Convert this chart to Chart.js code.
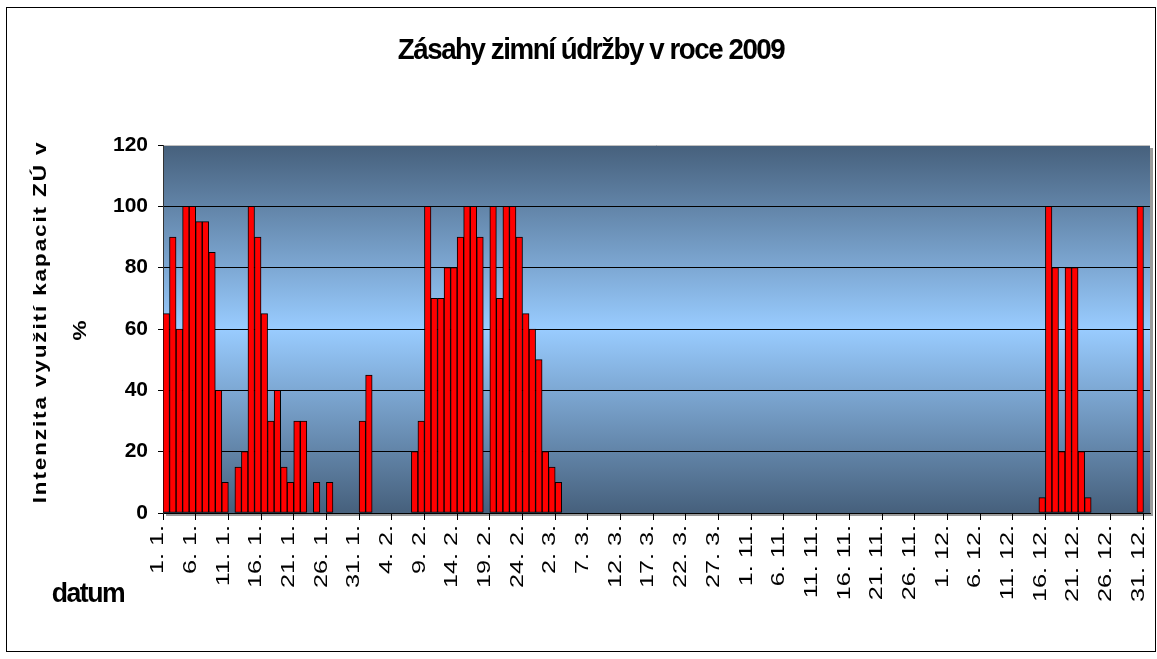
<!DOCTYPE html>
<html>
<head>
<meta charset="utf-8">
<script src="https://cdn.jsdelivr.net/npm/chart.js@4.4.1/dist/chart.umd.min.js"></script>
<style>
  html, body { margin: 0; padding: 0; background: #fff; }
  canvas { display: block; }
</style>
</head>
<body>
<canvas id="zasahy" width="1157" height="659"></canvas>
<script>
const chartTitle = "Zásahy zimní údržby v roce 2009";
const yTitleLines = ["Intenzita využití kapacit ZÚ v", "%"];
const xTitle = "datum";

// days shown on the category axis, month by month
const janDays = [1, 2, 3, 4, 5, 6, 7, 8, 9, 10, 11, 12, 13, 14, 15, 16, 17, 18, 19, 20, 21, 22, 23, 24, 25, 26, 27, 28, 29, 30, 31];
const febDays = [1, 1, 2, 3, 4, 5, 6, 7, 8, 9, 10, 11, 12, 13, 14, 15, 16, 17, 18, 19, 20, 21, 22, 23, 24, 25, 26, 27, 28];
const marDays = [2, 3, 4, 5, 6, 7, 8, 9, 10, 11, 12, 13, 14, 15, 16, 17, 18, 19, 20, 21, 22, 23, 24, 25, 26, 27, 28, 29, 30, 31];
const novDays = [1, 2, 3, 4, 5, 6, 7, 8, 9, 10, 11, 12, 13, 14, 15, 16, 17, 18, 19, 20, 21, 22, 23, 24, 25, 26, 27, 28, 29, 30];
const decDays = [1, 2, 3, 4, 5, 6, 7, 8, 9, 10, 11, 12, 13, 14, 15, 16, 17, 18, 19, 20, 21, 22, 23, 24, 25, 26, 27, 28, 29, 30, 31];

// intensity in %, one value per day
const janValues = [65, 90, 60, 100, 100, 95, 95, 85, 40, 10, 0, 15, 20, 100, 90, 65, 30, 40, 15, 10, 30, 30, 0, 10, 0, 10, 0, 0, 0, 0, 30];
const febValues = [45, 0, 0, 0, 0, 0, 0, 20, 30, 100, 70, 70, 80, 80, 90, 100, 100, 90, 0, 100, 70, 100, 100, 90, 65, 60, 50, 20, 15];
const marValues = [10, 0, 0, 0, 0, 0, 0, 0, 0, 0, 0, 0, 0, 0, 0, 0, 0, 0, 0, 0, 0, 0, 0, 0, 0, 0, 0, 0, 0, 0];
const novValues = [0, 0, 0, 0, 0, 0, 0, 0, 0, 0, 0, 0, 0, 0, 0, 0, 0, 0, 0, 0, 0, 0, 0, 0, 0, 0, 0, 0, 0, 0];
const decValues = [0, 0, 0, 0, 0, 0, 0, 0, 0, 0, 0, 0, 0, 0, 5, 100, 80, 20, 80, 80, 20, 5, 0, 0, 0, 0, 0, 0, 0, 100, 0];

const yTicks = [0, 20, 40, 60, 80, 100, 120];

const labels = [
  ...janDays.map((d) => d + ". 1."),
  ...febDays.map((d) => d + ". 2."),
  ...marDays.map((d) => d + ". 3."),
  ...novDays.map((d) => d + ". 11."),
  ...decDays.map((d) => d + ". 12."),
];
const values = [...janValues, ...febValues, ...marValues, ...novValues, ...decValues];

const xTickLength = 7;
const xTickPadding = 5;
// the date labels in the original look drawn taller than wide
const xLabelStretch = 1.4;

const chartDecor = {
  id: "chartDecor",
  beforeDraw(chart) {
    const { ctx, chartArea } = chart;
    const { left, top, right, bottom } = chartArea;
    ctx.save();
    ctx.fillStyle = "#fff";
    ctx.fillRect(0, 0, chart.width, chart.height);
    ctx.strokeStyle = "#000";
    ctx.lineWidth = 1;
    ctx.strokeRect(6.5, 7.5, 1149, 644);

    // shadow of the plot area
    ctx.fillStyle = "#9a9a9a";
    ctx.fillRect(left + 3, top + 3, right - left, bottom - top);

    const grad = ctx.createLinearGradient(0, top, 0, bottom);
    grad.addColorStop(0, "#46607c");
    grad.addColorStop(0.5, "#99ccff");
    grad.addColorStop(1, "#46607c");
    ctx.fillStyle = grad;
    ctx.fillRect(left, top, right - left, bottom - top);
    ctx.strokeStyle = "#c0c0c0";
    ctx.beginPath();
    ctx.moveTo(left, top + 0.5);
    ctx.lineTo(right, top + 0.5);
    ctx.stroke();
    ctx.restore();
  },
  afterDatasetsDraw(chart) {
    // x tick labels are drawn right after this hook (ticks.z = 1)
    const { ctx } = chart;
    const y0 = chart.scales.x.top + xTickLength + xTickPadding;
    ctx.save();
    ctx.translate(0, y0);
    ctx.scale(1, xLabelStretch);
    ctx.translate(0, -y0);
  },
  afterDraw(chart) {
    const { ctx } = chart;
    ctx.restore();

    ctx.save();
    ctx.fillStyle = "#000";
    ctx.textAlign = "center";
    ctx.textBaseline = "alphabetic";

    ctx.save();
    ctx.font = 'bold 29px "Liberation Sans"';
    ctx.letterSpacing = "-1.5px";
    ctx.translate(591, 59);
    ctx.scale(0.955, 1);
    ctx.fillText(chartTitle, 0, 0);
    ctx.restore();

    ctx.save();
    ctx.font = 'bold 28px "Liberation Sans"';
    ctx.letterSpacing = "-1.5px";
    ctx.translate(88, 602);
    ctx.scale(0.95, 1);
    ctx.fillText(xTitle, 0, 0);
    ctx.restore();

    ctx.textBaseline = "middle";
    ctx.font = 'bold 18px "Liberation Sans"';
    ctx.letterSpacing = "1.5px";
    ctx.translate(41, 322);
    ctx.rotate(-Math.PI / 2);
    ctx.scale(1.25, 1);
    ctx.fillText(yTitleLines[0], 0, 0);
    ctx.fillText(yTitleLines[1], -6, 40);
    ctx.restore();
  },
};

new Chart(document.getElementById("zasahy"), {
  type: "bar",
  data: {
    labels: labels,
    datasets: [
      {
        data: values,
        backgroundColor: "#ff0000",
        borderColor: "#000",
        borderWidth: 1,
        borderSkipped: false,
        barPercentage: 1,
        categoryPercentage: 1,
      },
    ],
  },
  options: {
    responsive: false,
    animation: false,
    layout: { padding: { top: 145, left: 0, right: 7, bottom: 0 } },
    plugins: {
      legend: { display: false },
      title: { display: false },
      tooltip: { enabled: false },
    },
    scales: {
      x: {
        afterFit: (scale) => {
          scale.height = 146;
          scale.paddingLeft = 0;
          scale.paddingRight = 0;
        },
        grid: {
          offset: true,
          drawOnChartArea: false,
          drawTicks: true,
          tickLength: xTickLength,
          tickColor: (c) => (c.index % 5 === 0 ? "#000" : "rgba(0,0,0,0)"),
        },
        border: { color: "#000" },
        ticks: {
          z: 1,
          autoSkip: false,
          minRotation: 90,
          maxRotation: 90,
          padding: xTickPadding,
          labelOffset: -8,
          color: "#000",
          font: { family: '"Liberation Sans"', size: 18 },
          callback: function (value, index) {
            return index % 5 === 0 ? this.getLabelForValue(value) : "";
          },
        },
      },
      y: {
        min: 0,
        max: 120,
        afterFit: (scale) => {
          scale.width = 163;
        },
        afterBuildTicks: (scale) => {
          scale.ticks = yTicks.map((v) => ({ value: v }));
        },
        grid: {
          color: (c) => (c.tick && c.tick.value === 120 ? "rgba(0,0,0,0)" : "#000"),
          tickColor: "#000",
          tickLength: 5,
        },
        border: { color: "#333" },
        ticks: {
          padding: 10,
          color: "#000",
          font: { family: '"Liberation Sans"', size: 21, weight: "bold" },
        },
      },
    },
  },
  plugins: [chartDecor],
});
</script>
</body>
</html>
